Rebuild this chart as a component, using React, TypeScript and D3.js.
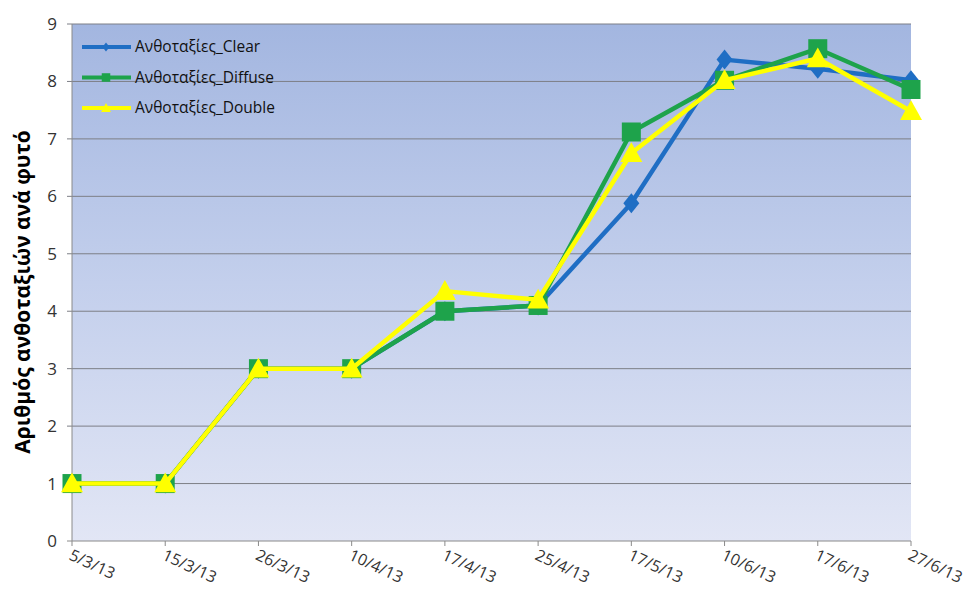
import React from "react";
import * as d3 from "d3";

const categories = ["5/3/13", "15/3/13", "26/3/13", "10/4/13", "17/4/13", "25/4/13", "17/5/13", "10/6/13", "17/6/13", "27/6/13"];
const clearValues = [1, 1, 3, 3, 4.0, 4.1, 5.88, 8.38, 8.22, 8.02];
const diffuseValues = [1, 1, 3, 3, 4.0, 4.1, 7.12, 8.02, 8.57, 7.86];
const doubleValues = [1, 1, 3, 3, 4.35, 4.2, 6.75, 8.02, 8.4, 7.48];
const yTicks = [0, 1, 2, 3, 4, 5, 6, 7, 8, 9];
const seriesNames = ["Ανθοταξίες_Clear", "Ανθοταξίες_Diffuse", "Ανθοταξίες_Double"];
const yLabel = "Αριθμός ανθοταξιών ανά φυτό";

const W = 973, H = 597;
const left = 72, right = 911, top = 24, bottom = 541;
const font = "'Open Sans', 'Noto Sans', sans-serif";

export default function App() {
  const x = d3.scalePoint<string>().domain(categories).range([left, right]);
  const y = d3.scaleLinear().domain([0, 9]).range([bottom, top]);
  const line = d3.line<number>().x((_, i) => x(categories[i])!).y(d => y(d));

  const series = [
    { name: seriesNames[0], values: clearValues, color: "#1f6ec4", marker: "diamond" },
    { name: seriesNames[1], values: diffuseValues, color: "#1ea34b", marker: "square" },
    { name: seriesNames[2], values: doubleValues, color: "#ffff00", marker: "triangle" },
  ];

  const marker = (type: string, cx: number, cy: number, color: string, key: string, s = 1) => {
    if (type === "diamond") {
      const r = 10 * s;
      return <path key={key} d={`M${cx},${cy - r}L${cx + r * 0.8},${cy}L${cx},${cy + r}L${cx - r * 0.8},${cy}Z`} fill={color} />;
    }
    if (type === "square") {
      const r = 9.5 * s;
      return <rect key={key} x={cx - r} y={cy - r} width={2 * r} height={2 * r} fill={color} />;
    }
    const r = 11 * s;
    return <path key={key} d={`M${cx},${cy - r}L${cx + r},${cy + r * 0.8}L${cx - r},${cy + r * 0.8}Z`} fill={color} />;
  };

  return (
    <svg width={W} height={H} style={{ position: "absolute", left: 0, top: 0, background: "#fff" }}>
      <defs>
        <linearGradient id="bg" x1="0" y1="0" x2="0" y2="1">
          <stop offset="0" stopColor="#a3b6e0" />
          <stop offset="0.5" stopColor="#c3cfec" />
          <stop offset="1" stopColor="#e2e6f5" />
        </linearGradient>
      </defs>
      <rect x={left} y={top} width={right - left} height={bottom - top} fill="url(#bg)" />
      {yTicks.map(t => (
        <g key={t}>
          {t > 0 && <line x1={left - 5} x2={right} y1={y(t)} y2={y(t)} stroke="#7d7f86" strokeWidth={1} />}
          <text x={left - 15} y={y(t)} dy="0.35em" textAnchor="end" fontFamily={font} fontSize={17} fill="#333">{t}</text>
        </g>
      ))}
      <line x1={left} x2={left} y1={top} y2={bottom} stroke="#8a8a8a" />
      <line x1={left - 5} x2={right} y1={bottom} y2={bottom} stroke="#8a8a8a" />
      {categories.map(c => (
        <g key={c}>
          <line x1={x(c)} x2={x(c)} y1={bottom} y2={bottom + 5} stroke="#8a8a8a" />
          <text transform={`translate(${x(c)! - 4},${bottom + 18}) rotate(25)`} fontFamily={font} fontSize={16} fill="#333">{c}</text>
        </g>
      ))}
      <text transform={`translate(30,${292}) rotate(-90)`} textAnchor="middle" fontFamily={font} fontWeight="bold" fontSize={21} fill="#000">{yLabel}</text>
      {series.map(s => (
        <g key={s.name}>
          <path d={line(s.values)!} fill="none" stroke={s.color} strokeWidth={4.5} strokeLinejoin="round" />
          {s.values.map((v, i) => marker(s.marker, x(categories[i])!, y(v), s.color, s.name + i))}
        </g>
      ))}
      {series.map((s, i) => {
        const ly = 47 + i * 30.5;
        return (
          <g key={"lg" + s.name}>
            <line x1={82} x2={131} y1={ly} y2={ly} stroke={s.color} strokeWidth={4} />
            {marker(s.marker, 106, ly, s.color, "lm" + i, 0.45)}
            <text x={135} y={ly} dy="0.35em" fontFamily={font} fontSize={15.5} fill="#111">{s.name}</text>
          </g>
        );
      })}
    </svg>
  );
}
